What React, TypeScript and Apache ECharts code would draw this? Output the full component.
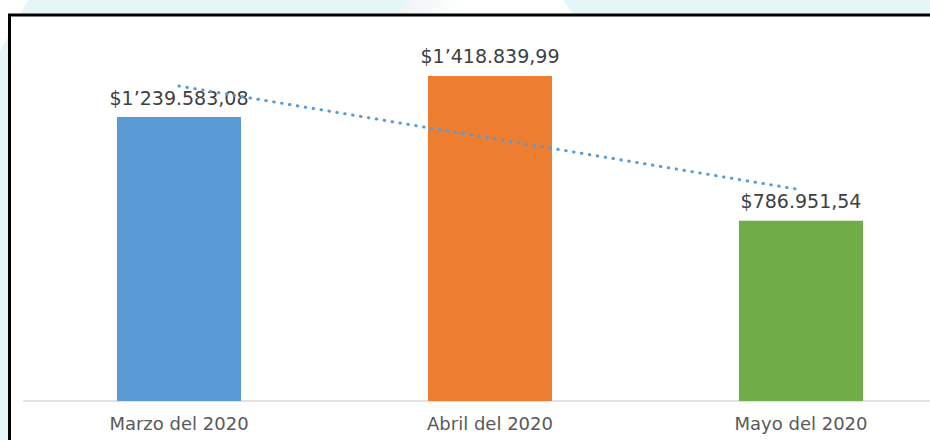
import React, { useEffect, useRef } from "react";
import * as echarts from "echarts";

const categories = ["Marzo del 2020", "Abril del 2020", "Mayo del 2020"];
const values = [1239583.08, 1418839.99, 786951.54];
const barColors = ["#5B9BD5", "#ED7D31", "#70AD47"];
// dotted trend line at each category centre
const trendValues = [1375000, 1148000, 922000];

function formatMoney(v: number): string {
  const fixed = v.toFixed(2);
  const [intPart, dec] = fixed.split(".");
  const groups: string[] = [];
  let s = intPart;
  while (s.length > 3) {
    groups.unshift(s.slice(-3));
    s = s.slice(0, -3);
  }
  groups.unshift(s);
  let out = "";
  const n = groups.length;
  groups.forEach((g, i) => {
    if (i > 0) {
      const remaining = n - i;
      out += remaining === 2 ? "’" : ".";
    }
    out += g;
  });
  return "$" + out + "," + dec;
}

export default function App() {
  const ref = useRef<HTMLDivElement>(null);
  useEffect(() => {
    if (!ref.current) return;
    const chart = echarts.init(ref.current, undefined, { renderer: "svg" });
    chart.setOption({
      animation: false,
      backgroundColor: "#E5F6F8",
      graphic: [
        {
          type: "polygon",
          z: 0,
          silent: true,
          shape: { points: [[0, 0], [28, 0], [0, 52]] },
          style: { fill: "#ffffff" },
        },
        {
          type: "polygon",
          z: 0,
          silent: true,
          shape: { points: [[410, 0], [563, 0], [573, 14], [397, 14]] },
          style: {
            fill: {
              type: "linear",
              x: 0, y: 0, x2: 1, y2: 0,
              colorStops: [
                { offset: 0, color: "#eef3f3" },
                { offset: 0.4, color: "#ffffff" },
                { offset: 1, color: "#ffffff" },
              ],
            },
          },
        },
        {
          type: "rect",
          z: 0,
          silent: true,
          shape: { x: 9.5, y: 15, width: 980, height: 450 },
          style: { fill: "#ffffff", stroke: "#000000", lineWidth: 3 },
        },
      ],
      grid: { left: 23.5, top: 34.5, width: 933, height: 366.5 },
      xAxis: {
        type: "category",
        data: categories,
        axisLine: { lineStyle: { color: "#d9d9d9", width: 1.5 } },
        axisTick: { show: false },
        axisLabel: {
          color: "#595959",
          fontSize: 18,
          fontFamily: "DejaVu Sans",
          margin: 13,
        },
      },
      yAxis: {
        type: "value",
        min: 0,
        max: 1600000,
        show: false,
        splitLine: { show: false },
      },
      series: [
        {
          type: "bar",
          barWidth: 124,
          data: values.map((v, i) => ({
            value: v,
            itemStyle: { color: barColors[i] },
          })),
          label: {
            show: true,
            position: "top",
            distance: 10,
            color: "#404040",
            fontSize: 19,
            fontFamily: "DejaVu Sans",
            formatter: (p: any) => formatMoney(p.value),
          },
          z: 2,
        },
        {
          type: "line",
          data: trendValues,
          symbol: "none",
          silent: true,
          lineStyle: {
            color: "#5B9BD5",
            width: 3,
            type: [0.5, 7.5],
            cap: "round",
          },
          z: 3,
        },
      ],
    });
    return () => chart.dispose();
  }, []);
  return (
    <div
      style={{
        position: "absolute",
        left: 0,
        top: 0,
        width: 930,
        height: 440,
        overflow: "hidden",
      }}
    >
      <div ref={ref} style={{ width: 980, height: 440 }} />
    </div>
  );
}
